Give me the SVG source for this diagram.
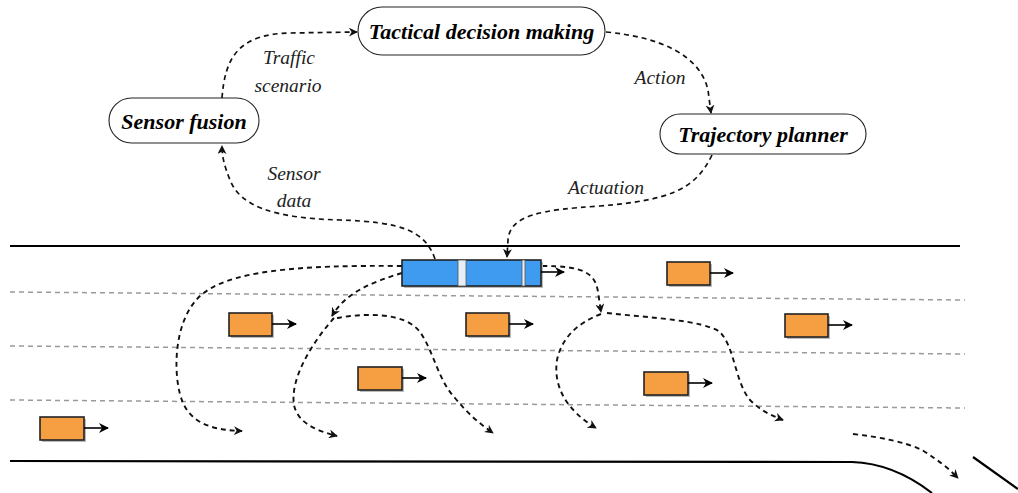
<svg xmlns="http://www.w3.org/2000/svg" width="1018" height="493" viewBox="0 0 1018 493">
  <style>
    .node rect { fill: #ffffff; stroke: #222222; stroke-width: 1.1; }
    .node text { font-family: "Liberation Serif", serif; font-weight: bold; font-style: italic; font-size: 22px; fill: #000; text-anchor: middle; }
    .lbl { font-family: "Liberation Serif", serif; font-style: italic; font-size: 19.5px; fill: #222; text-anchor: middle; }
    .flow { fill: none; stroke: #111; stroke-width: 1.7; stroke-dasharray: 5 4; marker-end: url(#head); }
    .traj { fill: none; stroke: #111; stroke-width: 1.9; stroke-dasharray: 5 4; marker-end: url(#head); }
    .road { fill: none; stroke: #000; stroke-width: 2.2; }
    .lane { fill: none; stroke: #9a9a9a; stroke-width: 1.5; stroke-dasharray: 5 4; }
    .car { fill: #f59e42; stroke: #222; stroke-width: 1.6; }
    .shadow { fill: #bbbbbb; }
    .ego { fill: #3f9bf0; stroke: #222; stroke-width: 1.6; }
    .stripe { fill: #e6eef8; stroke: #555; stroke-width: 0.8; }
    .heading { stroke: #000; stroke-width: 1.6; marker-end: url(#tip); }
  </style>
  <defs>
    <marker id="head" viewBox="0 0 10 10" refX="9" refY="5" markerWidth="9" markerHeight="9" markerUnits="userSpaceOnUse" orient="auto">
      <path d="M0,0 L10,5 L0,10 L3,5 Z" fill="#111"/>
    </marker>
    <marker id="tip" viewBox="0 0 10 10" refX="9" refY="5" markerWidth="10" markerHeight="10" markerUnits="userSpaceOnUse" orient="auto">
      <path d="M0,0 L10,5 L0,10 L3,5 Z" fill="#000"/>
    </marker>
  </defs>

  <!-- road edges -->
  <g id="road">
    <line class="road" x1="10" y1="246" x2="960" y2="246"/>
    <path class="road" d="M10,461 L852,462 C885,463 910,476 932,493"/>
    <line class="road" x1="973" y1="457" x2="1018" y2="489"/>
    <line class="lane" x1="10" y1="292" x2="965" y2="300"/>
    <line class="lane" x1="10" y1="346" x2="965" y2="354"/>
    <line class="lane" x1="10" y1="400" x2="965" y2="408"/>
  </g>

  <!-- pipeline blocks -->
  <g id="sensor-fusion" class="node">
    <rect x="109" y="98" width="150" height="45" rx="22.5"/>
    <text x="184" y="128.5">Sensor fusion</text>
  </g>
  <g id="tactical-decision" class="node">
    <rect x="358" y="7" width="247" height="48" rx="24"/>
    <text x="481.5" y="38.5">Tactical decision making</text>
  </g>
  <g id="trajectory-planner" class="node">
    <rect x="660" y="114" width="206" height="40" rx="20"/>
    <text x="763" y="141.5">Trajectory planner</text>
  </g>

  <!-- information flow between blocks -->
  <g id="connectors">
    <path class="flow" d="M222,98 C225,58 238,34 290,33 L357,32"/>
    <path class="flow" d="M606,32 C660,37 700,55 708,90 L711,113"/>
    <path class="flow" d="M712,155 C695,190 670,200 600,206 C540,210 510,215 508,240 L507,257"/>
    <path class="flow" d="M435,259 C425,230 400,222 340,220 C270,218 240,205 230,180 C224,165 222,156 222,146"/>
  </g>
  <g id="labels">
    <text class="lbl" x="289" y="64">Traffic</text>
    <text class="lbl" x="288" y="92">scenario</text>
    <text class="lbl" x="660" y="84">Action</text>
    <text class="lbl" x="294" y="180">Sensor</text>
    <text class="lbl" x="294" y="207">data</text>
    <text class="lbl" x="606" y="194">Actuation</text>
  </g>

  <!-- candidate manoeuvres of the ego vehicle -->
  <g id="trajectories">
    <path class="traj" d="M402,266 C300,265 225,270 198,298 C172,325 173,380 183,403 C193,425 215,430 242,431"/>
    <path class="traj" d="M402,273 C372,282 345,293 332,316"/>
    <path class="traj" d="M334,318 C310,345 290,380 294,405 C298,424 318,431 337,436"/>
    <path class="traj" d="M337,318 C365,313 405,312 420,332 C434,352 438,380 455,398 C468,414 480,424 493,433"/>
    <path class="traj" d="M542,266 C582,266 595,272 598,292 L601,312"/>
    <path class="traj" d="M601,314 C580,322 562,336 557,360 C553,386 566,410 596,428"/>
    <path class="traj" d="M607,313 C652,318 702,320 720,332 C735,348 735,382 750,400 C760,410 770,415 783,420"/>
    <path class="traj" d="M853,434 C880,437 905,442 922,450 C938,460 948,468 958,478"/>
  </g>

  <!-- ego vehicle -->
  <g id="ego-vehicle">
    <rect class="shadow" x="404" y="262" width="139" height="26"/>
    <rect class="ego" x="402" y="260" width="139" height="26"/>
    <rect class="stripe" x="458" y="260" width="8" height="26"/>
    <rect class="stripe" x="522" y="260" width="3" height="26"/>
    <line class="heading" x1="541" y1="272" x2="564" y2="272"/>
  </g>

  <!-- surrounding vehicles -->
  <g id="car-1">
    <rect class="shadow" x="669" y="264" width="43" height="23"/>
    <rect class="car" x="667" y="262" width="43" height="23"/>
    <line class="heading" x1="710" y1="273" x2="733" y2="273"/>
  </g>
  <g id="car-2">
    <rect class="shadow" x="231" y="315" width="43" height="23"/>
    <rect class="car" x="229" y="313" width="43" height="23"/>
    <line class="heading" x1="272" y1="324" x2="296" y2="324"/>
  </g>
  <g id="car-3">
    <rect class="shadow" x="468" y="315" width="43" height="23"/>
    <rect class="car" x="466" y="313" width="43" height="23"/>
    <line class="heading" x1="509" y1="324" x2="533" y2="324"/>
  </g>
  <g id="car-4">
    <rect class="shadow" x="787" y="316" width="43" height="23"/>
    <rect class="car" x="785" y="314" width="43" height="23"/>
    <line class="heading" x1="828" y1="325" x2="852" y2="325"/>
  </g>
  <g id="car-5">
    <rect class="shadow" x="360" y="369" width="44" height="23"/>
    <rect class="car" x="358" y="367" width="44" height="23"/>
    <line class="heading" x1="402" y1="378" x2="426" y2="378"/>
  </g>
  <g id="car-6">
    <rect class="shadow" x="646" y="374" width="44" height="23"/>
    <rect class="car" x="644" y="372" width="44" height="23"/>
    <line class="heading" x1="688" y1="383" x2="712" y2="383"/>
  </g>
  <g id="car-7">
    <rect class="shadow" x="42" y="419" width="44" height="23"/>
    <rect class="car" x="40" y="417" width="44" height="23"/>
    <line class="heading" x1="84" y1="428" x2="108" y2="428"/>
  </g>
</svg>
